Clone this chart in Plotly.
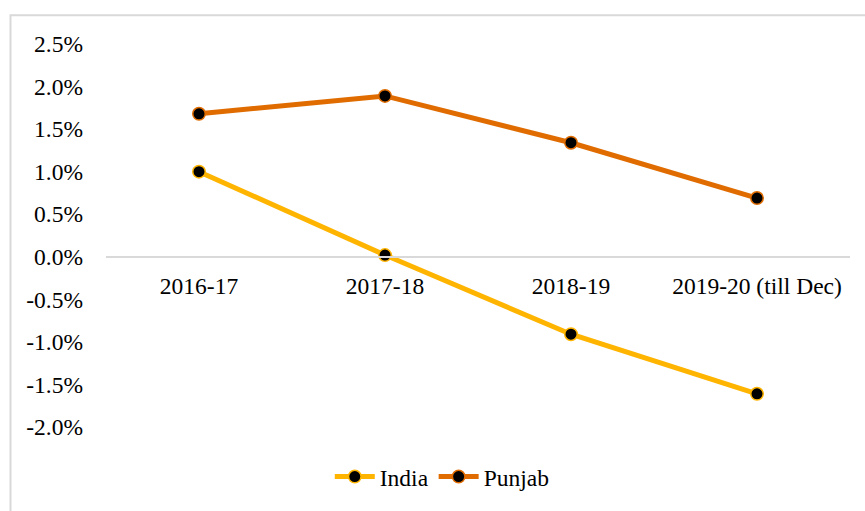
import plotly.graph_objects as go

categories = ["2016-17", "2017-18", "2018-19", "2019-20 (till Dec)"]
india = [1.00, 0.02, -0.91, -1.61]
punjab = [1.68, 1.89, 1.34, 0.69]
y_ticks = [2.5, 2.0, 1.5, 1.0, 0.5, 0.0, -0.5, -1.0, -1.5, -2.0]
y_tick_text = [f"{v:.1f}%" for v in y_ticks]

FONT = "Liberation Serif"

fig = go.Figure()
for name, vals, col in [("India", india, "#FFB400"), ("Punjab", punjab, "#E06C00")]:
    fig.add_trace(go.Scatter(
        x=list(range(len(categories))), y=vals, name=name, mode="lines+markers",
        line=dict(color=col, width=5),
        marker=dict(color="black", size=12.5, line=dict(color=col, width=1.5)),
    ))

fig.update_layout(
    width=865, height=511,
    margin=dict(l=106, r=15, t=44, b=81),
    paper_bgcolor="white", plot_bgcolor="white",
    font=dict(family=FONT, size=23.5, color="black"),
    showlegend=True,
    legend=dict(orientation="h", x=0.452, xanchor="center", y=-0.13, yanchor="middle",
                font=dict(family=FONT, size=23.5), itemwidth=40, traceorder="normal"),
    xaxis=dict(
        range=[-0.5, 3.5], tickmode="array", tickvals=list(range(len(categories))),
        ticktext=categories, anchor="free", position=0.4445,
        tickfont=dict(family=FONT, size=23.5),
        showline=True, linecolor="#D9D9D9", linewidth=1.5,
        showgrid=False, zeroline=False, ticks="", ticklabelstandoff=8,
    ),
    yaxis=dict(
        range=[-2.0, 2.5], tickmode="array", tickvals=y_ticks, ticktext=y_tick_text,
        tickfont=dict(family=FONT, size=23.5),
        showgrid=False, zeroline=False, showline=False, ticks="", ticklabelstandoff=22,
    ),
    shapes=[dict(type="rect", xref="paper", yref="paper",
                 x0=(10.5 - 106) / 744, x1=1.1, y0=-0.3, y1=(429.6 - 14.5) / 386.1,
                 line=dict(color="#D9D9D9", width=2), fillcolor="rgba(0,0,0,0)", layer="below")],
)

fig.write_html("out.html", config={"displayModeBar": False},
               post_script="document.body.style.margin='0px';")
